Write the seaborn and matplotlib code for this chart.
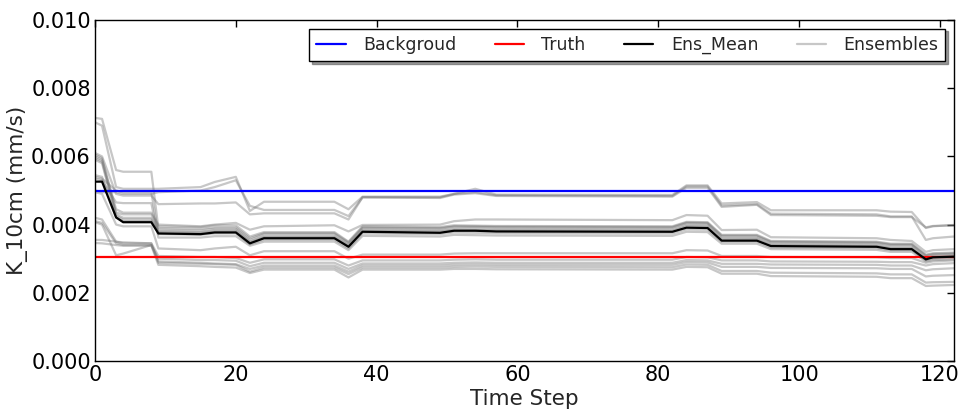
import numpy as np
import pandas as pd
import matplotlib
matplotlib.use("Agg")
import matplotlib.pyplot as plt
from matplotlib.ticker import FormatStrFormatter
import seaborn as sns

# Time steps at which the series change slope (values in between are linear)
steps = [0, 1, 3, 4, 8, 9, 15, 17, 20, 22, 24, 34, 36, 38, 49, 51, 54, 57,
         82, 84, 87, 89, 94, 96, 111, 113, 116, 118, 119, 122]

# Hydraulic conductivity K_10cm, in units of 1e-3 mm/s
background = 5.00
truth = 3.05

ens_mean = [5.26, 5.26, 4.21, 4.07, 4.07, 3.74, 3.72, 3.77, 3.77, 3.45, 3.60, 3.60,
            3.35, 3.79, 3.76, 3.82, 3.82, 3.80, 3.79, 3.91, 3.90, 3.53, 3.53, 3.37,
            3.35, 3.28, 3.28, 2.98, 3.04, 3.06]

member_01 = [7.13, 7.10, 5.60, 5.55, 5.55, 3.90, 3.88, 3.92, 3.92, 3.60, 3.75, 3.75,
             3.48, 3.92, 3.90, 3.95, 3.95, 3.94, 3.93, 4.06, 4.05, 3.68, 3.68, 3.50,
             3.48, 3.42, 3.42, 3.10, 3.14, 3.16]
member_02 = [7.00, 6.90, 5.10, 5.05, 5.05, 5.05, 5.10, 5.25, 5.40, 4.40, 4.67, 4.67,
             4.45, 4.82, 4.82, 4.90, 5.05, 4.88, 4.87, 5.15, 5.15, 4.62, 4.66, 4.42,
             4.42, 4.38, 4.37, 3.90, 3.95, 3.99]
member_03 = [6.10, 6.00, 4.90, 4.85, 4.85, 4.60, 4.62, 4.62, 4.65, 4.30, 4.33, 4.33,
             4.15, 4.80, 4.78, 4.88, 4.92, 4.84, 4.82, 5.08, 5.08, 4.52, 4.58, 4.28,
             4.26, 4.22, 4.22, 3.92, 3.96, 3.98]
member_04 = [6.00, 5.90, 4.45, 4.35, 4.35, 4.00, 3.95, 4.00, 4.05, 3.85, 3.95, 3.98,
             3.80, 3.99, 4.00, 4.10, 4.15, 4.15, 4.13, 4.28, 4.26, 3.84, 3.85, 3.63,
             3.60, 3.55, 3.52, 3.20, 3.25, 3.28]
member_05 = [5.95, 5.85, 4.30, 4.20, 4.20, 3.85, 3.83, 3.88, 3.88, 3.55, 3.72, 3.72,
             3.45, 3.90, 3.88, 3.94, 3.93, 3.92, 3.91, 4.04, 4.03, 3.65, 3.65, 3.48,
             3.46, 3.40, 3.40, 3.08, 3.12, 3.14]
member_06 = [5.90, 5.80, 4.25, 4.15, 4.15, 3.80, 3.78, 3.83, 3.83, 3.50, 3.66, 3.66,
             3.40, 3.85, 3.83, 3.88, 3.88, 3.87, 3.86, 3.99, 3.98, 3.60, 3.60, 3.43,
             3.41, 3.35, 3.35, 3.02, 3.08, 3.10]
member_07 = [5.45, 5.40, 4.20, 4.10, 4.10, 3.78, 3.76, 3.80, 3.80, 3.48, 3.63, 3.63,
             3.38, 3.82, 3.80, 3.85, 3.84, 3.83, 3.82, 3.95, 3.94, 3.56, 3.57, 3.40,
             3.38, 3.31, 3.31, 3.00, 3.05, 3.07]
member_08 = [5.40, 5.35, 5.00, 4.95, 4.95, 3.72, 3.70, 3.74, 3.74, 3.42, 3.56, 3.56,
             3.30, 3.74, 3.72, 3.77, 3.76, 3.75, 3.74, 3.86, 3.85, 3.50, 3.50, 3.33,
             3.31, 3.25, 3.25, 2.95, 3.00, 3.02]
member_09 = [5.35, 5.30, 4.65, 4.63, 4.63, 3.62, 3.62, 3.66, 3.66, 3.38, 3.50, 3.50,
             3.25, 3.67, 3.65, 3.70, 3.69, 3.68, 3.67, 3.79, 3.78, 3.44, 3.44, 3.28,
             3.26, 3.20, 3.20, 2.92, 2.96, 2.98]
member_10 = [5.00, 4.95, 4.95, 4.90, 4.90, 4.95, 5.00, 5.10, 5.30, 4.55, 4.43, 4.43,
             4.25, 4.80, 4.80, 4.90, 4.95, 4.86, 4.84, 5.12, 5.12, 4.56, 4.60, 4.32,
             4.30, 4.24, 4.24, 3.55, 3.60, 3.65]
member_11 = [4.20, 4.15, 3.50, 3.45, 3.45, 3.08, 3.05, 3.05, 3.02, 2.88, 2.98, 2.98,
             2.80, 2.95, 2.95, 2.97, 2.98, 2.97, 2.97, 3.05, 3.04, 2.95, 2.95, 2.92,
             2.91, 2.90, 2.90, 2.80, 2.84, 2.87]
member_12 = [4.10, 4.05, 3.45, 3.40, 3.40, 3.00, 2.96, 2.96, 2.94, 2.78, 2.88, 2.88,
             2.70, 2.86, 2.86, 2.88, 2.89, 2.88, 2.88, 2.96, 2.95, 2.85, 2.85, 2.83,
             2.82, 2.80, 2.80, 2.66, 2.69, 2.72]
member_13 = [4.07, 4.00, 3.10, 3.15, 3.40, 2.92, 2.88, 2.86, 2.84, 2.70, 2.80, 2.80,
             2.62, 2.80, 2.80, 2.82, 2.83, 2.82, 2.82, 2.90, 2.89, 2.76, 2.76, 2.73,
             2.72, 2.70, 2.70, 2.48, 2.50, 2.52]
member_14 = [3.55, 3.55, 3.50, 3.48, 3.45, 2.88, 2.85, 2.84, 2.82, 2.62, 2.74, 2.74,
             2.55, 2.74, 2.74, 2.76, 2.77, 2.76, 2.75, 2.83, 2.82, 2.64, 2.64, 2.59,
             2.57, 2.54, 2.54, 2.30, 2.31, 2.32]
member_15 = [3.46, 3.45, 3.40, 3.38, 3.38, 2.82, 2.78, 2.76, 2.74, 2.58, 2.68, 2.68,
             2.45, 2.68, 2.68, 2.70, 2.70, 2.69, 2.68, 2.76, 2.75, 2.56, 2.56, 2.49,
             2.47, 2.43, 2.43, 2.20, 2.21, 2.23]
member_16 = [6.05, 5.95, 4.35, 4.30, 4.30, 3.95, 3.93, 3.98, 3.98, 3.65, 3.78, 3.78,
             3.50, 3.95, 3.93, 3.98, 3.97, 3.96, 3.95, 4.08, 4.07, 3.70, 3.70, 3.52,
             3.50, 3.44, 3.44, 3.12, 3.16, 3.18]
member_17 = [4.95, 4.90, 4.00, 3.95, 3.95, 3.30, 3.25, 3.30, 3.35, 3.10, 3.22, 3.22,
             3.00, 3.12, 3.12, 3.15, 3.16, 3.16, 3.16, 3.25, 3.24, 3.08, 3.08, 3.05,
             3.04, 3.02, 3.02, 2.88, 2.92, 2.95]

members = [member_01, member_02, member_03, member_04, member_05, member_06,
           member_07, member_08, member_09, member_10, member_11, member_12,
           member_13, member_14, member_15, member_16, member_17]

scale = 1e-3

sns.set_style("white")
plt.rcParams["font.family"] = ["DejaVu Sans"]

fig = plt.figure(figsize=(9.63, 4.12), dpi=100)
ax = fig.add_axes([95 / 963, 51 / 412, 859 / 963, 341 / 412])

# Ensemble members
for i, vals in enumerate(members):
    sns.lineplot(x=steps, y=np.array(vals) * scale, ax=ax, color="0.45",
                 alpha=0.4, lw=1.6, zorder=1,
                 label="Ensembles" if i == 0 else "_nolegend_")

ax.axhline(background * scale, color="#0000ff", lw=1.6, zorder=2, label="Backgroud")
ax.axhline(truth * scale, color="#ff0000", lw=1.6, zorder=2, label="Truth")
sns.lineplot(x=steps, y=np.array(ens_mean) * scale, ax=ax, color="black",
             lw=1.6, zorder=3, label="Ens_Mean")

handles, labels = ax.get_legend_handles_labels()
order = ["Backgroud", "Truth", "Ens_Mean", "Ensembles"]
hmap = dict(zip(labels, handles))
leg = ax.legend([hmap[k] for k in order], order, loc="upper right", ncol=4,
                fontsize=12.5, frameon=True, shadow={"color": "0.35", "alpha": 0.6},
                fancybox=False, borderaxespad=0.5, handlelength=1.7,
                handletextpad=1.0, columnspacing=2.2)
leg.get_frame().set_edgecolor("black")
leg.get_frame().set_linewidth(1.0)

ax.set_xlim(0, 122)
ax.set_ylim(0, 0.010)
ax.set_xticks([0, 20, 40, 60, 80, 100, 120])
ax.set_yticks(np.arange(0, 0.0101, 0.002))
ax.yaxis.set_major_formatter(FormatStrFormatter("%.3f"))
ax.tick_params(direction="in", top=True, right=True, length=5, width=1,
               labelsize=15, colors="black")
ax.tick_params(axis="y", pad=3)
ax.tick_params(axis="x", pad=3)
for s in ax.spines.values():
    s.set_color("black")
    s.set_linewidth(1.0)
    s.set_visible(True)

ax.set_xlabel("Time Step", fontsize=15.5, labelpad=3)
ax.set_ylabel("K_10cm (mm/s)", fontsize=15.5, labelpad=2)

fig.savefig("out.png", dpi=100)
